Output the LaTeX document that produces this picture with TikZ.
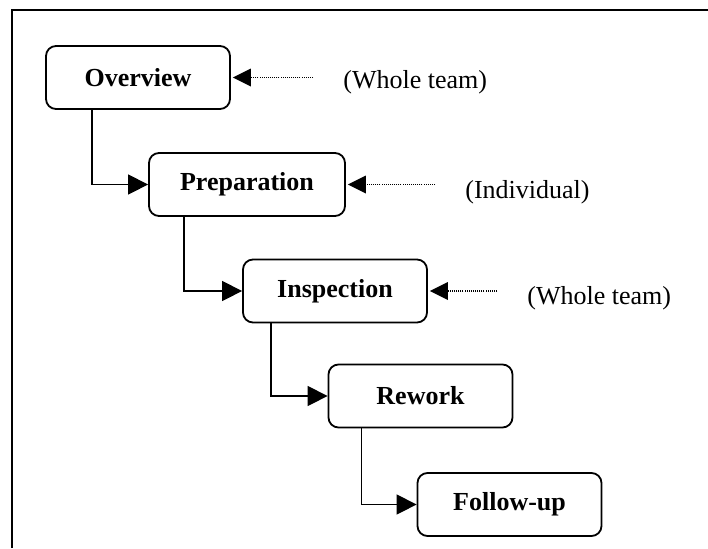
\documentclass[tikz,border=0pt]{standalone}
\usepackage{fontspec}
\setmainfont{Liberation Serif}
\usetikzlibrary{arrows.meta}
\tikzset{
	stepbox/.style={draw, rounded corners=5pt, line width=0.9pt, minimum width=92pt, minimum height=31.5pt, font=\fontsize{13pt}{15pt}\selectfont\bfseries},
	flowline/.style={line width=0.7pt, -{Triangle[length=10pt, width=10pt]}},
	notetext/.style={anchor=west, inner sep=0pt, font=\fontsize{13pt}{15pt}\selectfont},
	noteline/.style={line width=0.75pt, dash pattern=on 0.5pt off 0.55pt, shorten <=15pt, shorten >=1pt, -{Triangle[length=9pt, width=9pt, line width=0pt]}}
}
\newcommand{\stepBox}[5][]{
	\path (#2,#3) node[stepbox, #1](#4){#5};
}
\newcommand{\flow}[3]{
	\draw[flowline] ([xshift=#3]#1.south west) |- (#2.west);
}
\newcommand{\teamNote}[5]{
	\path (#2,#3) node[notetext](#4){#5};
	\draw[noteline] (#1.east -| #4.west) -- (#1.east);
}
\begin{document}
\begin{tikzpicture}[x=0.5pt, y=-0.5pt]
	\useasboundingbox (0,0) rectangle (708,548);
	\draw[line width=1pt] (11.5,548) -- (11.5,10) -- (708,10);

	\stepBox{138}{77.5}{ov}{Overview};
	\stepBox[minimum width=98pt]{247}{184.5}{prep}{Preparation};
	\stepBox{335}{291}{insp}{Inspection};
	\stepBox{420.5}{396}{rew}{Rework};
	\stepBox{509.5}{504.5}{fol}{Follow-up};

	\flow{ov}{prep}{23.5pt};
	\flow{prep}{insp}{18pt};
	\flow{insp}{rew}{14.5pt};
	\flow{rew}{fol}{17pt};

	\teamNote{ov}{343}{82.5}{ovNote}{(Whole team)};
	\teamNote{prep}{465}{192.5}{prepNote}{(Individual)};
	\teamNote{insp}{527}{298.5}{inspNote}{(Whole team)};
\end{tikzpicture}
\end{document}
